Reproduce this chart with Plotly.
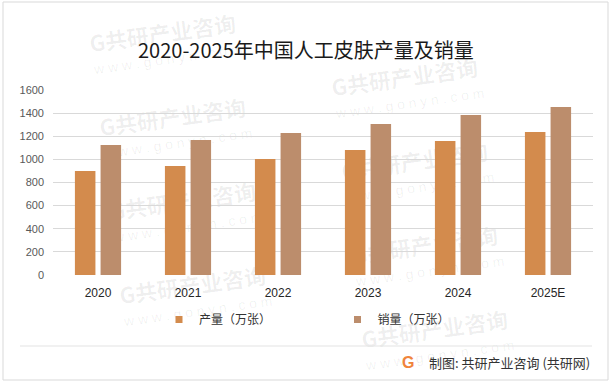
import plotly.graph_objects as go

# ---- data ----
years = ["2020", "2021", "2022", "2023", "2024", "2025E"]
production = [900, 943, 1003, 1081, 1159, 1237]
sales = [1124, 1168, 1228, 1306, 1384, 1453]
series_names = ["产量（万张）", "销量（万张）"]
series_colors = ["#D38B4D", "#BC8D6C"]
title_text = "2020-2025年中国人工皮肤产量及销量"
source_text = "制图: 共研产业咨询 (共研网)"

W, H = 615, 384
L, R, T, B = 53, 22, 90, 109
PW, PH = W - L - R, H - T - B


def px(x):
    return (x - L) / PW


def py(y):
    return (H - B - y) / PH


CJK = "Noto Sans CJK SC, Noto Sans, sans-serif"

fig = go.Figure()
for name, vals, col in zip(series_names, [production, sales], series_colors):
    fig.add_trace(go.Bar(x=years, y=vals, name=name, marker=dict(color=col, line=dict(width=0)),
                         showlegend=False, hoverinfo="skip"))
for name, col in zip(series_names, series_colors):
    fig.add_trace(go.Scatter(x=[None], y=[None], mode="markers", name=name,
                             marker=dict(symbol="square", size=7, color=col), hoverinfo="skip"))

shapes = []


def inside(cx, cy, hw, hh):
    return cx - hw >= 4 and cx + hw <= 607 and cy - hh >= 3 and cy + hh <= 379


# faint watermarks (behind the chart)
for i in range(-1, 3):
    for j in range(-1, 4):
        cx = 173 + 232 * i + 10 * j
        cy = 120 + 84 * j - 40 * i
        if inside(cx, cy, 92, 24):
            shapes.append(dict(type="rect", xref="paper", yref="paper", layer="below",
                               x0=px(cx - 1), x1=px(cx + 1), y0=py(cy + 1), y1=py(cy - 1),
                               line=dict(width=0), fillcolor="rgba(0,0,0,0)",
                               label=dict(text="<b>G共研产业咨询</b>", textangle=-8,
                                          font=dict(family=CJK, size=22, color="rgba(0,0,0,0.065)"))))
        ux, uy = cx + 5, cy + 22
        if inside(ux, uy, 90, 18):
            shapes.append(dict(type="rect", xref="paper", yref="paper", layer="below",
                               x0=px(ux - 1), x1=px(ux + 1), y0=py(uy + 1), y1=py(uy - 1),
                               line=dict(width=0), fillcolor="rgba(0,0,0,0)",
                               label=dict(text="w w w . g o n y n . c o m", textangle=-8,
                                          font=dict(family="Liberation Sans", size=14, color="rgba(0,0,0,0.065)"))))

# outer border
shapes.append(dict(type="rect", xref="paper", yref="paper", x0=px(3), x1=px(608), y0=py(380), y1=py(2),
                   line=dict(color="#D9D9D9", width=1), fillcolor="rgba(0,0,0,0)", layer="above"))
# separator line
shapes.append(dict(type="line", xref="paper", yref="paper", x0=px(20), x1=px(592), y0=py(346), y1=py(346),
                   line=dict(color="#E3E3E3", width=1)))

annotations = [
    dict(text=title_text, xref="paper", yref="paper", x=px(306), y=py(49), xanchor="center", yanchor="middle",
         showarrow=False, font=dict(family=CJK, size=20, color="#1A1A1A")),
    dict(text="<b>G</b>", xref="paper", yref="paper", x=px(408), y=py(362), xanchor="center", yanchor="middle",
         showarrow=False, font=dict(family="Liberation Sans", size=16, color="#F0843C")),
    dict(text=source_text, xref="paper", yref="paper", x=px(592), y=py(362), xanchor="right", yanchor="middle",
         showarrow=False, font=dict(family=CJK, size=13, color="#333333")),
]

fig.update_layout(
    width=W, height=H, autosize=False,
    margin=dict(l=L, r=R, t=T, b=B, pad=0),
    paper_bgcolor="white", plot_bgcolor="white",
    barmode="group", bargap=0.43, bargroupgap=0.2,
    showlegend=True,
    legend=dict(orientation="h", x=px(159), y=py(319.5), xanchor="left", yanchor="middle",
                entrywidth=133.5, entrywidthmode="pixels",
                font=dict(family=CJK, size=12, color="#333333"), bgcolor="rgba(0,0,0,0)"),
    xaxis=dict(type="category", showline=False, showgrid=False, zeroline=False, ticks="",
               ticklabelstandoff=9, tickfont=dict(family="Liberation Sans", size=12, color="#262626")),
    yaxis=dict(range=[0, 1600], dtick=200, showline=False, zeroline=False, showgrid=True,
               gridcolor="#D9D9D9", gridwidth=1, ticks="", ticklabelstandoff=8,
               tickfont=dict(family="Liberation Sans", size=11, color="#595959")),
    shapes=shapes, annotations=annotations,
)

fig.write_html("out.html", config={"displayModeBar": False},
               post_script="document.body.style.margin='0';document.body.style.padding='0';"
                           "document.body.style.overflow='hidden';")
